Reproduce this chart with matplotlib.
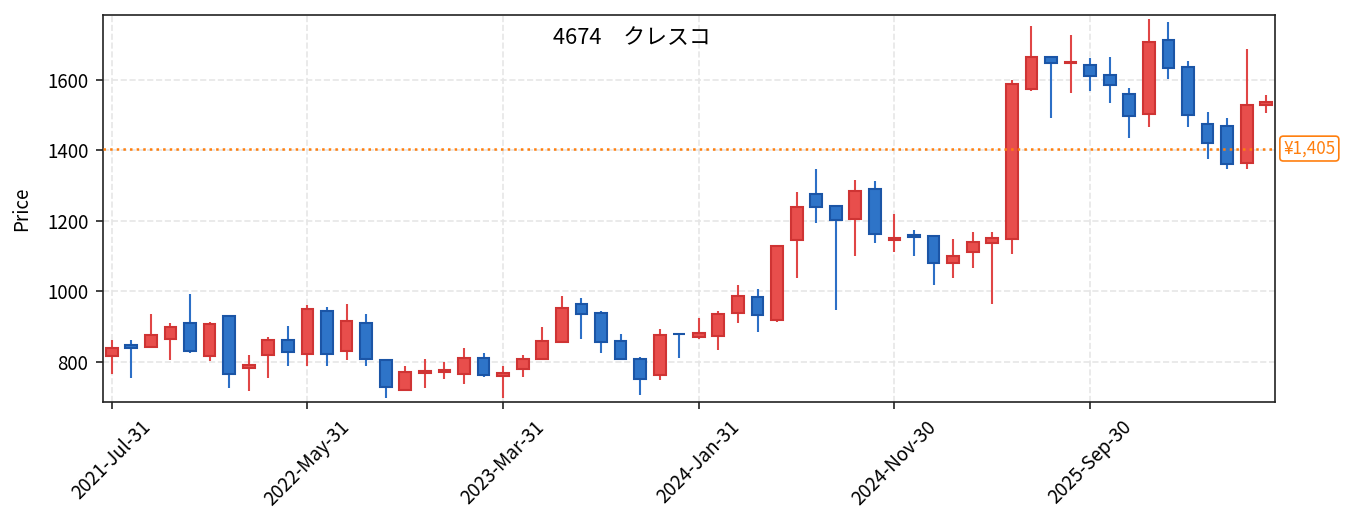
import pandas as pd
import matplotlib
matplotlib.use("Agg")
from matplotlib import pyplot as plt

plt.rcParams['font.family'] = ['Noto Sans CJK JP', 'DejaVu Sans']

# monthly candles, 2021-07 .. 2026-06
opens = [817, 849, 842, 864, 910, 817, 929, 783, 819, 863,
         823, 943, 831, 911, 804, 721, 768, 771, 765, 812,
         759, 779, 807, 857, 965, 938, 858, 807, 762, 880,
         871, 873, 938, 985, 918, 1146, 1276, 1241, 1205, 1289,
         1146, 1161, 1156, 1080, 1112, 1138, 1148, 1575, 1666, 1649,
         1641, 1613, 1561, 1503, 1713, 1636, 1476, 1470, 1364, 1529]
highs = [862, 862, 936, 911, 993, 913, 929, 819, 870, 902,
         962, 956, 965, 936, 804, 789, 808, 800, 840, 825,
         789, 820, 899, 987, 982, 945, 879, 814, 894, 880,
         925, 945, 1018, 1007, 1130, 1282, 1347, 1241, 1316, 1313,
         1220, 1175, 1156, 1149, 1169, 1169, 1599, 1753, 1666, 1728,
         1661, 1665, 1577, 1773, 1765, 1653, 1508, 1491, 1688, 1557]
lows = [766, 753, 842, 804, 826, 801, 727, 718, 753, 787,
        789, 789, 806, 789, 696, 716, 727, 750, 738, 756,
        696, 756, 807, 857, 865, 824, 804, 706, 749, 811,
        866, 834, 911, 885, 914, 1037, 1195, 948, 1099, 1138,
        1113, 1099, 1019, 1037, 1065, 963, 1107, 1567, 1493, 1564,
        1567, 1533, 1436, 1465, 1601, 1465, 1374, 1348, 1348, 1507]
closes = [838, 839, 877, 900, 830, 907, 766, 792, 863, 828,
          951, 823, 917, 808, 729, 770, 774, 777, 812, 762,
          767, 807, 860, 954, 936, 857, 808, 752, 875, 880,
          883, 937, 988, 933, 1130, 1238, 1239, 1203, 1284, 1163,
          1152, 1154, 1080, 1101, 1139, 1150, 1588, 1666, 1648, 1650,
          1612, 1586, 1498, 1706, 1634, 1500, 1421, 1362, 1528, 1538]

datumai = pd.date_range("2021-07-31", periods=len(opens), freq="ME")
dabartine_kaina = 1405
pavadinimas = "4674\u3000クレスコ"

up_face, up_edge = "#e84e4c", "#cf3434"
dn_face, dn_edge = "#2e74c8", "#1b55a6"

fig = plt.figure(figsize=(9.02, 3.54), dpi=150)
ax = fig.add_axes([0.0761, 0.2429, 0.8663, 0.7289])

x = list(range(len(opens)))
faces = []
edges = []
for o, c in zip(opens, closes):
    if c > o:
        faces.append(up_face)
        edges.append(up_edge)
    else:
        faces.append(dn_face)
        edges.append(dn_edge)

wick_cols = ["#e04646" if f == up_face else "#2c6fc6" for f in faces]
ax.vlines(x, lows, highs, colors=wick_cols, linewidth=1.0, zorder=2)
ax.bar(x, [c - o for o, c in zip(opens, closes)], bottom=opens, width=0.6,
       color=faces, edgecolor=edges, linewidth=1.0, zorder=3)

ax.axhline(dabartine_kaina, color="#ff7f0e", linestyle=":", linewidth=1.2, zorder=4)
ax.text(1.007, dabartine_kaina, f"¥{dabartine_kaina:,}", transform=ax.get_yaxis_transform(),
        color="#ff7f0e", fontsize=8.2, va="center", ha="left",
        bbox=dict(boxstyle="round,pad=0.2", facecolor="white", edgecolor="#ff7f0e", linewidth=0.8))

ax.text(0.451, 0.94, pavadinimas, transform=ax.transAxes, ha="center", va="center", fontsize=10.5)

ax.set_xlim(-0.45, len(opens) - 0.55)
ax.set_ylim(686, 1784)
ax.set_yticks([800, 1000, 1200, 1400, 1600])
ax.set_xticks(x[::10])
ax.set_xticklabels([d.strftime("%Y-%b-%d") for d in datumai[::10]], rotation=45)
ax.tick_params(labelsize=9, length=3.5, color="#222222")
ax.set_ylabel("Price", fontsize=9, labelpad=7)
ax.grid(True, linestyle="--", color="#e6e6e6", linewidth=0.8, zorder=0)
ax.set_axisbelow(True)
for s in ax.spines.values():
    s.set_color("#222222")

plt.savefig("out.png", dpi=150)
